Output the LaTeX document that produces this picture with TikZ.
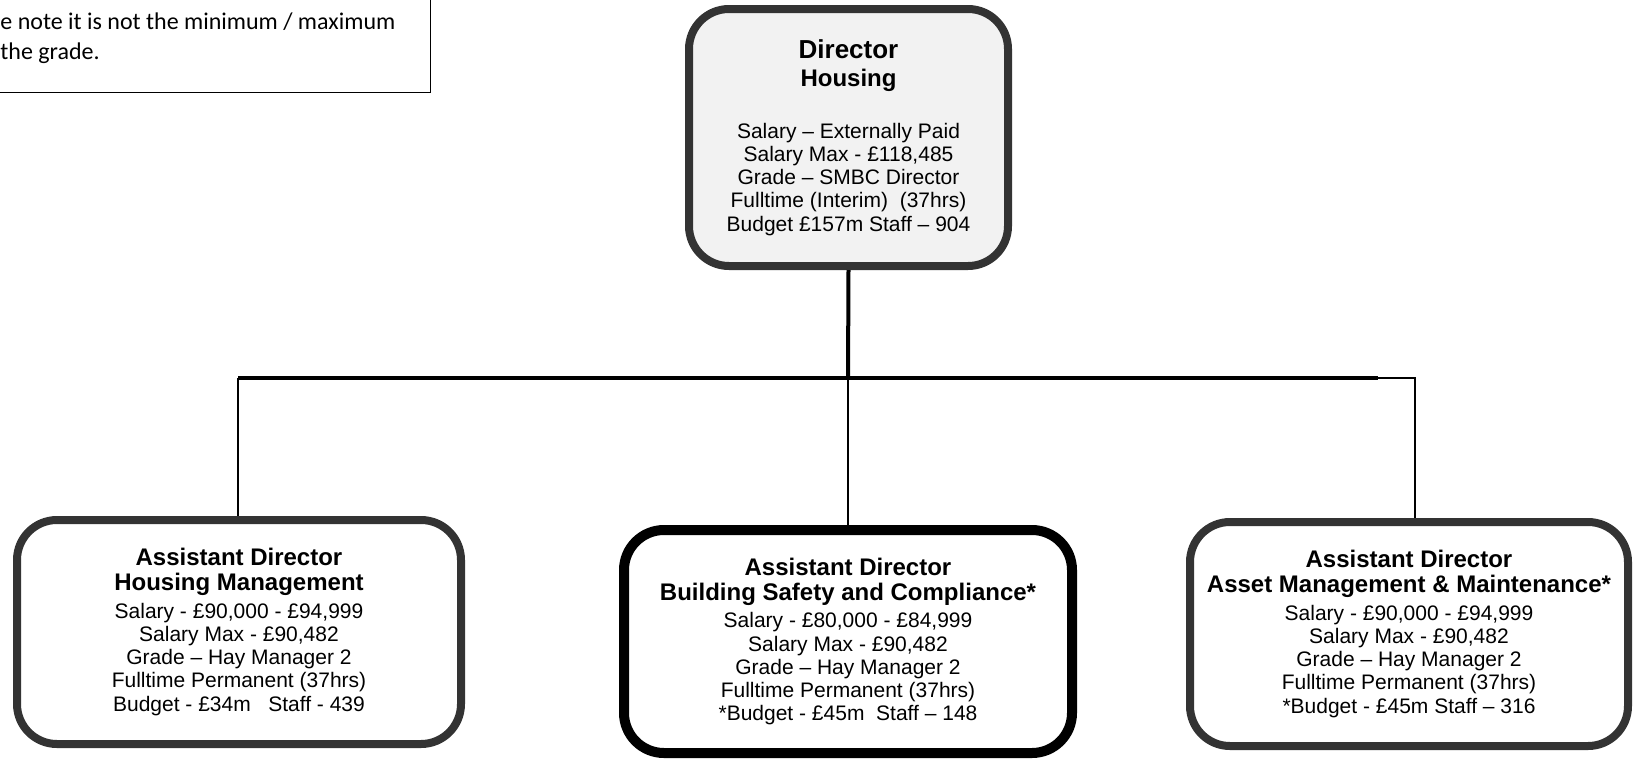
\documentclass[tikz,border=0pt]{standalone}
\usepackage{fontspec}
\setmainfont{Liberation Sans}
\newfontfamily\notefont{Carlito}

\begin{document}
\begin{tikzpicture}[x=0.5pt, y=-0.5pt,
  every node/.style = {align=center, font=\fontsize{10.5}{11.6}\selectfont},
  post/.style = {shape=rectangle, rounded corners=20pt, draw=black!80,
    line width=4pt, fill=white, inner sep=0pt,
    minimum width=222pt, minimum height=112pt},
  head/.style = {post, fill=black!5, minimum width=159.5pt, minimum height=128.5pt},
  link/.style = {line width=1pt},
  bar/.style = {line width=2pt}]
  \useasboundingbox (0,0) rectangle (1634,761);

  \node (note) [draw, line width=0.75pt, anchor=south east,
    minimum width=260pt, minimum height=80pt] at (431,93) {};
  \node (notetext) [anchor=base west, align=left, inner sep=0pt,
    font=\notefont\fontsize{12}{15}\selectfont] at (0,59)
    {e note it is not the minimum / maximum\\the grade.};

  \node (dir) [head] at (848.5,137.5)
    {{\fontsize{13}{13}\selectfont\bfseries Director}\\[2.4pt]
     {\fontsize{12}{12}\selectfont\bfseries Housing}\\[14.4pt]
     Salary – Externally Paid\\
     Salary Max - £118,485\\
     Grade – SMBC Director\\
     Fulltime (Interim)\ \ (37hrs)\\
     Budget £157m Staff – 904};

  \node (hm) [post] at (239,632)
    {{\fontsize{12}{12}\selectfont\bfseries Assistant Director}\\[0.9pt]
     {\fontsize{12}{12}\selectfont\bfseries Housing Management}\\[2.1pt]
     Salary - £90,000 - £94,999\\
     Salary Max - £90,482\\
     Grade – Hay Manager 2\\
     Fulltime Permanent (37hrs)\\
     Budget - £34m\ \ \ Staff - 439};

  \node (bsc) [post, draw=black, line width=5pt, minimum width=224pt,
    minimum height=111.5pt] at (848,641.5)
    {{\fontsize{12}{12}\selectfont\bfseries Assistant Director}\\[0.9pt]
     {\fontsize{12}{12}\selectfont\bfseries Building Safety and Compliance*}\\[2.1pt]
     Salary - £80,000 - £84,999\\
     Salary Max - £90,482\\
     Grade – Hay Manager 2\\
     Fulltime Permanent (37hrs)\\
     *Budget - £45m\ \ Staff – 148};

  \node (amm) [post, minimum width=219pt] at (1409,634)
    {{\fontsize{12}{12}\selectfont\bfseries Assistant Director}\\[0.9pt]
     {\fontsize{12}{12}\selectfont\bfseries Asset Management \& Maintenance*}\\[2.1pt]
     Salary - £90,000 - £94,999\\
     Salary Max - £90,482\\
     Grade – Hay Manager 2\\
     Fulltime Permanent (37hrs)\\
     *Budget - £45m Staff – 316};

  \coordinate (bus) at (848,378);
  \coordinate (busl) at (238,378);
  \coordinate (busr) at (1378,378);
  \coordinate (busrr) at (1415,378);

  \draw[bar] (dir.south) -- (bus);
  \draw[bar] (busl) -- (busr);
  \draw[link] (busr) -- (busrr) -- (busrr |- amm.north);
  \draw[link] (busl) -- (busl |- hm.north);
  \draw[link] (bus) -- (bsc.north);
\end{tikzpicture}
\end{document}
